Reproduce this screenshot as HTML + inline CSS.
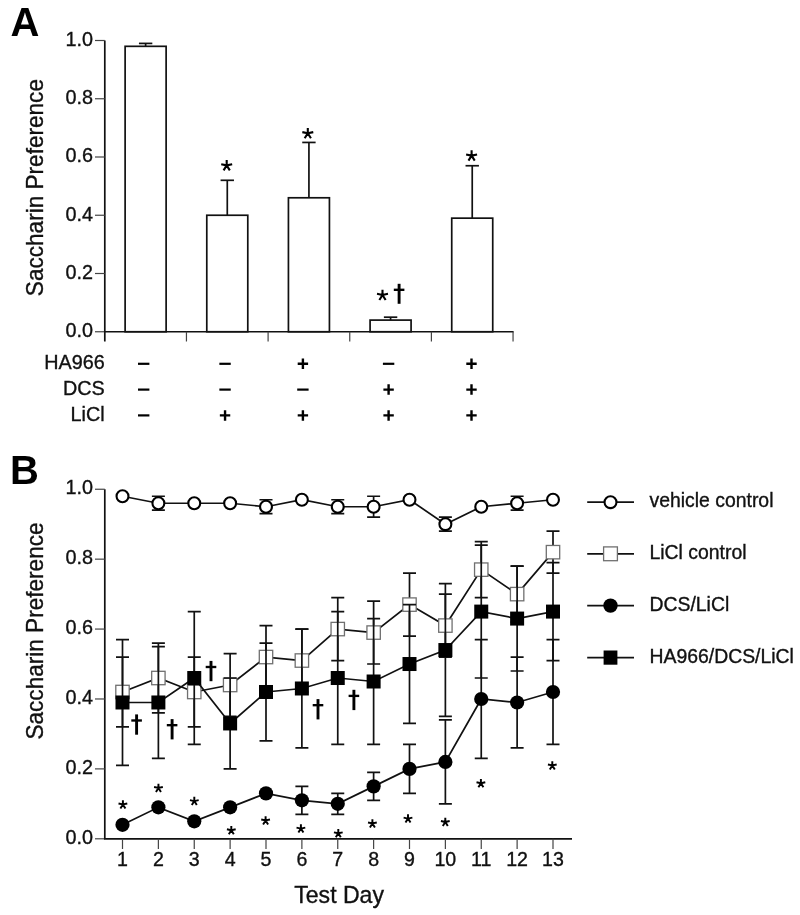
<!DOCTYPE html>
<html><head><meta charset="utf-8"><title>Figure</title>
<style>
html,body{margin:0;padding:0;background:#fff;}
body{width:800px;height:915px;overflow:hidden;}
svg{display:block;will-change:transform;}
text{font-family:"Liberation Sans",sans-serif;fill:#111;stroke:#111;stroke-width:0.35px;}
text[font-weight=bold]{stroke:none;fill:#000;}
</style></head>
<body>
<svg width="800" height="915" viewBox="0 0 800 915">
<text x="10.5" y="35.8" font-size="40" font-weight="bold">A</text>
<text x="10" y="484" font-size="40" font-weight="bold">B</text>
<line x1="104.8" y1="40.5" x2="104.8" y2="341.5" stroke="#111" stroke-width="1.7"/>
<line x1="95" y1="331.75" x2="104.8" y2="331.75" stroke="#444" stroke-width="1.2"/>
<text x="93" y="337.15" font-size="19.8" text-anchor="end">0.0</text>
<line x1="95" y1="273.5" x2="104.8" y2="273.5" stroke="#444" stroke-width="1.2"/>
<text x="93" y="278.9" font-size="19.8" text-anchor="end">0.2</text>
<line x1="95" y1="215.25" x2="104.8" y2="215.25" stroke="#444" stroke-width="1.2"/>
<text x="93" y="220.65" font-size="19.8" text-anchor="end">0.4</text>
<line x1="95" y1="157" x2="104.8" y2="157" stroke="#444" stroke-width="1.2"/>
<text x="93" y="162.4" font-size="19.8" text-anchor="end">0.6</text>
<line x1="95" y1="98.75" x2="104.8" y2="98.75" stroke="#444" stroke-width="1.2"/>
<text x="93" y="104.15" font-size="19.8" text-anchor="end">0.8</text>
<line x1="95" y1="40.5" x2="104.8" y2="40.5" stroke="#444" stroke-width="1.2"/>
<text x="93" y="45.9" font-size="19.8" text-anchor="end">1.0</text>
<line x1="103.95" y1="331.75" x2="513.6" y2="331.75" stroke="#111" stroke-width="1.7"/>
<line x1="186.45" y1="331.75" x2="186.45" y2="341.5" stroke="#444" stroke-width="1.2"/>
<line x1="268.1" y1="331.75" x2="268.1" y2="341.5" stroke="#444" stroke-width="1.2"/>
<line x1="349.75" y1="331.75" x2="349.75" y2="341.5" stroke="#444" stroke-width="1.2"/>
<line x1="431.4" y1="331.75" x2="431.4" y2="341.5" stroke="#444" stroke-width="1.2"/>
<line x1="513.05" y1="331.75" x2="513.05" y2="341.5" stroke="#444" stroke-width="1.2"/>
<text transform="translate(43.1,187.6) rotate(-90) scale(0.982,1)" font-size="23" text-anchor="middle">Saccharin Preference</text>
<line x1="145.62" y1="46.32" x2="145.62" y2="43.41" stroke="#111" stroke-width="1.7"/>
<line x1="138.93" y1="43.41" x2="152.32" y2="43.41" stroke="#111" stroke-width="1.7"/>
<rect x="125.12" y="46.32" width="41" height="285.43" fill="#fff" stroke="#111" stroke-width="1.7"/>
<line x1="227.28" y1="215.25" x2="227.28" y2="180.3" stroke="#111" stroke-width="1.7"/>
<line x1="220.58" y1="180.3" x2="233.97" y2="180.3" stroke="#111" stroke-width="1.7"/>
<rect x="206.78" y="215.25" width="41" height="116.5" fill="#fff" stroke="#111" stroke-width="1.7"/>
<line x1="308.93" y1="197.78" x2="308.93" y2="142.44" stroke="#111" stroke-width="1.7"/>
<line x1="302.23" y1="142.44" x2="315.62" y2="142.44" stroke="#111" stroke-width="1.7"/>
<rect x="288.43" y="197.78" width="41" height="133.97" fill="#fff" stroke="#111" stroke-width="1.7"/>
<line x1="390.58" y1="320.1" x2="390.58" y2="317.19" stroke="#111" stroke-width="1.7"/>
<line x1="383.88" y1="317.19" x2="397.28" y2="317.19" stroke="#111" stroke-width="1.7"/>
<rect x="370.08" y="320.1" width="41" height="11.65" fill="#fff" stroke="#111" stroke-width="1.7"/>
<line x1="472.23" y1="218.16" x2="472.23" y2="165.74" stroke="#111" stroke-width="1.7"/>
<line x1="465.53" y1="165.74" x2="478.93" y2="165.74" stroke="#111" stroke-width="1.7"/>
<rect x="451.73" y="218.16" width="41" height="113.59" fill="#fff" stroke="#111" stroke-width="1.7"/>
<path d="M226.7 165.4L226.7 160.1M226.7 165.4L232.18 164.24M226.7 165.4L221.22 164.24M226.7 165.4L229.83 170.4M226.7 165.4L223.57 170.4" stroke="#000" stroke-width="2.1" fill="none" stroke-linecap="butt"/>
<path d="M307.8 133.3L307.8 128M307.8 133.3L313.28 132.14M307.8 133.3L302.32 132.14M307.8 133.3L310.93 138.3M307.8 133.3L304.67 138.3" stroke="#000" stroke-width="2.1" fill="none" stroke-linecap="butt"/>
<path d="M382.5 295L382.5 289.7M382.5 295L387.98 293.84M382.5 295L377.02 293.84M382.5 295L385.63 300M382.5 295L379.37 300" stroke="#000" stroke-width="2.1" fill="none" stroke-linecap="butt"/>
<path d="M399.1 283.8V303.8" stroke="#000" stroke-width="2.9"/><path d="M393.8 289.8H404.4" stroke="#000" stroke-width="2.35"/>
<path d="M471.6 155.6L471.6 150.3M471.6 155.6L477.08 154.44M471.6 155.6L466.12 154.44M471.6 155.6L474.73 160.6M471.6 155.6L468.47 160.6" stroke="#000" stroke-width="2.1" fill="none" stroke-linecap="butt"/>
<text x="104.7" y="369.4" font-size="19.8" text-anchor="end">HA966</text>
<path d="M138 363.8H149.4" stroke="#000" stroke-width="2.2"/>
<path d="M219.35 363.8H230.75" stroke="#000" stroke-width="2.2"/>
<path d="M297.7 363.8H308.1M302.9 358.55V369.05" stroke="#000" stroke-width="2.4"/>
<path d="M382.9 363.8H394.3" stroke="#000" stroke-width="2.2"/>
<path d="M466.3 363.8H476.7M471.5 358.55V369.05" stroke="#000" stroke-width="2.4"/>
<text x="104.7" y="395.2" font-size="19.8" text-anchor="end">DCS</text>
<path d="M138 389.6H149.4" stroke="#000" stroke-width="2.2"/>
<path d="M219.35 389.6H230.75" stroke="#000" stroke-width="2.2"/>
<path d="M297.2 389.6H308.6" stroke="#000" stroke-width="2.2"/>
<path d="M383.4 389.6H393.8M388.6 384.35V394.85" stroke="#000" stroke-width="2.4"/>
<path d="M466.3 389.6H476.7M471.5 384.35V394.85" stroke="#000" stroke-width="2.4"/>
<text x="104.7" y="421" font-size="19.8" text-anchor="end">LiCl</text>
<path d="M138 415.4H149.4" stroke="#000" stroke-width="2.2"/>
<path d="M219.85 415.4H230.25M225.05 410.15V420.65" stroke="#000" stroke-width="2.4"/>
<path d="M297.7 415.4H308.1M302.9 410.15V420.65" stroke="#000" stroke-width="2.4"/>
<path d="M383.4 415.4H393.8M388.6 410.15V420.65" stroke="#000" stroke-width="2.4"/>
<path d="M466.3 415.4H476.7M471.5 410.15V420.65" stroke="#000" stroke-width="2.4"/>
<line x1="104.8" y1="489.25" x2="104.8" y2="838.8" stroke="#111" stroke-width="1.7"/>
<line x1="95" y1="838.8" x2="104.8" y2="838.8" stroke="#444" stroke-width="1.2"/>
<text x="93" y="844" font-size="19.8" text-anchor="end">0.0</text>
<line x1="95" y1="768.89" x2="104.8" y2="768.89" stroke="#444" stroke-width="1.2"/>
<text x="93" y="774.09" font-size="19.8" text-anchor="end">0.2</text>
<line x1="95" y1="698.98" x2="104.8" y2="698.98" stroke="#444" stroke-width="1.2"/>
<text x="93" y="704.18" font-size="19.8" text-anchor="end">0.4</text>
<line x1="95" y1="629.07" x2="104.8" y2="629.07" stroke="#444" stroke-width="1.2"/>
<text x="93" y="634.27" font-size="19.8" text-anchor="end">0.6</text>
<line x1="95" y1="559.16" x2="104.8" y2="559.16" stroke="#444" stroke-width="1.2"/>
<text x="93" y="564.36" font-size="19.8" text-anchor="end">0.8</text>
<line x1="95" y1="489.25" x2="104.8" y2="489.25" stroke="#444" stroke-width="1.2"/>
<text x="93" y="494.45" font-size="19.8" text-anchor="end">1.0</text>
<line x1="103.95" y1="838.8" x2="572" y2="838.8" stroke="#111" stroke-width="1.7"/>
<line x1="122.5" y1="838.8" x2="122.5" y2="849" stroke="#444" stroke-width="1.2"/>
<text x="122.5" y="866.3" font-size="19.6" text-anchor="middle">1</text>
<line x1="158.38" y1="838.8" x2="158.38" y2="849" stroke="#444" stroke-width="1.2"/>
<text x="158.38" y="866.3" font-size="19.6" text-anchor="middle">2</text>
<line x1="194.25" y1="838.8" x2="194.25" y2="849" stroke="#444" stroke-width="1.2"/>
<text x="194.25" y="866.3" font-size="19.6" text-anchor="middle">3</text>
<line x1="230.12" y1="838.8" x2="230.12" y2="849" stroke="#444" stroke-width="1.2"/>
<text x="230.12" y="866.3" font-size="19.6" text-anchor="middle">4</text>
<line x1="266" y1="838.8" x2="266" y2="849" stroke="#444" stroke-width="1.2"/>
<text x="266" y="866.3" font-size="19.6" text-anchor="middle">5</text>
<line x1="301.88" y1="838.8" x2="301.88" y2="849" stroke="#444" stroke-width="1.2"/>
<text x="301.88" y="866.3" font-size="19.6" text-anchor="middle">6</text>
<line x1="337.75" y1="838.8" x2="337.75" y2="849" stroke="#444" stroke-width="1.2"/>
<text x="337.75" y="866.3" font-size="19.6" text-anchor="middle">7</text>
<line x1="373.62" y1="838.8" x2="373.62" y2="849" stroke="#444" stroke-width="1.2"/>
<text x="373.62" y="866.3" font-size="19.6" text-anchor="middle">8</text>
<line x1="409.5" y1="838.8" x2="409.5" y2="849" stroke="#444" stroke-width="1.2"/>
<text x="409.5" y="866.3" font-size="19.6" text-anchor="middle">9</text>
<line x1="445.38" y1="838.8" x2="445.38" y2="849" stroke="#444" stroke-width="1.2"/>
<text x="445.38" y="866.3" font-size="19.6" text-anchor="middle">10</text>
<line x1="481.25" y1="838.8" x2="481.25" y2="849" stroke="#444" stroke-width="1.2"/>
<text x="481.25" y="866.3" font-size="19.6" text-anchor="middle">11</text>
<line x1="517.12" y1="838.8" x2="517.12" y2="849" stroke="#444" stroke-width="1.2"/>
<text x="517.12" y="866.3" font-size="19.6" text-anchor="middle">12</text>
<line x1="553" y1="838.8" x2="553" y2="849" stroke="#444" stroke-width="1.2"/>
<text x="553" y="866.3" font-size="19.6" text-anchor="middle">13</text>
<text x="339.1" y="903.3" font-size="23.05" text-anchor="middle">Test Day</text>
<text transform="translate(43.1,631) rotate(-90) scale(0.982,1)" font-size="23" text-anchor="middle">Saccharin Preference</text>
<path d="M122.5 657.03V726.94M116 657.03H129M116 726.94H129" stroke="#111" stroke-width="1.7" fill="none"/>
<path d="M158.38 643.05V712.96M151.88 643.05H164.88M151.88 712.96H164.88" stroke="#111" stroke-width="1.7" fill="none"/>
<path d="M194.25 657.03V726.94M187.75 657.03H200.75M187.75 726.94H200.75" stroke="#111" stroke-width="1.7" fill="none"/>
<path d="M230.12 653.54V716.46M223.62 653.54H236.62M223.62 716.46H236.62" stroke="#111" stroke-width="1.7" fill="none"/>
<path d="M266 625.57V688.49M259.5 625.57H272.5M259.5 688.49H272.5" stroke="#111" stroke-width="1.7" fill="none"/>
<path d="M301.88 629.07V691.99M295.38 629.07H308.38M295.38 691.99H308.38" stroke="#111" stroke-width="1.7" fill="none"/>
<path d="M337.75 597.61V660.53M331.25 597.61H344.25M331.25 660.53H344.25" stroke="#111" stroke-width="1.7" fill="none"/>
<path d="M373.62 601.11V664.02M367.12 601.11H380.12M367.12 664.02H380.12" stroke="#111" stroke-width="1.7" fill="none"/>
<path d="M409.5 573.14V636.06M403 573.14H416M403 636.06H416" stroke="#111" stroke-width="1.7" fill="none"/>
<path d="M445.38 594.12V657.03M438.88 594.12H451.88M438.88 657.03H451.88" stroke="#111" stroke-width="1.7" fill="none"/>
<path d="M481.25 541.68V597.61M474.75 541.68H487.75M474.75 597.61H487.75" stroke="#111" stroke-width="1.7" fill="none"/>
<path d="M517.12 566.15V622.08M510.62 566.15H523.62M510.62 622.08H523.62" stroke="#111" stroke-width="1.7" fill="none"/>
<path d="M553 531.2V573.14M546.5 531.2H559.5M546.5 573.14H559.5" stroke="#111" stroke-width="1.7" fill="none"/>
<polyline points="122.5,691.99 158.38,678.01 194.25,691.99 230.12,685 266,657.03 301.88,660.53 337.75,629.07 373.62,632.57 409.5,604.6 445.38,625.57 481.25,569.65 517.12,594.12 553,552.17" fill="none" stroke="#111" stroke-width="1.7"/>
<rect x="115.8" y="685.29" width="13.4" height="13.4" fill="#fff" stroke="#707070" stroke-width="1.3"/>
<rect x="151.68" y="671.31" width="13.4" height="13.4" fill="#fff" stroke="#707070" stroke-width="1.3"/>
<rect x="187.55" y="685.29" width="13.4" height="13.4" fill="#fff" stroke="#707070" stroke-width="1.3"/>
<rect x="223.43" y="678.3" width="13.4" height="13.4" fill="#fff" stroke="#707070" stroke-width="1.3"/>
<rect x="259.3" y="650.33" width="13.4" height="13.4" fill="#fff" stroke="#707070" stroke-width="1.3"/>
<rect x="295.18" y="653.83" width="13.4" height="13.4" fill="#fff" stroke="#707070" stroke-width="1.3"/>
<rect x="331.05" y="622.37" width="13.4" height="13.4" fill="#fff" stroke="#707070" stroke-width="1.3"/>
<rect x="366.93" y="625.87" width="13.4" height="13.4" fill="#fff" stroke="#707070" stroke-width="1.3"/>
<rect x="402.8" y="597.9" width="13.4" height="13.4" fill="#fff" stroke="#707070" stroke-width="1.3"/>
<rect x="438.68" y="618.87" width="13.4" height="13.4" fill="#fff" stroke="#707070" stroke-width="1.3"/>
<rect x="474.55" y="562.95" width="13.4" height="13.4" fill="#fff" stroke="#707070" stroke-width="1.3"/>
<rect x="510.43" y="587.41" width="13.4" height="13.4" fill="#fff" stroke="#707070" stroke-width="1.3"/>
<rect x="546.3" y="545.47" width="13.4" height="13.4" fill="#fff" stroke="#707070" stroke-width="1.3"/>
<path d="M122.5 639.56V765.39M116 639.56H129M116 765.39H129" stroke="#111" stroke-width="1.7" fill="none"/>
<path d="M158.38 646.55V758.4M151.88 646.55H164.88M151.88 758.4H164.88" stroke="#111" stroke-width="1.7" fill="none"/>
<path d="M194.25 611.59V744.42M187.75 611.59H200.75M187.75 744.42H200.75" stroke="#111" stroke-width="1.7" fill="none"/>
<path d="M230.12 678.01V768.89M223.62 678.01H236.62M223.62 768.89H236.62" stroke="#111" stroke-width="1.7" fill="none"/>
<path d="M266 643.05V740.93M259.5 643.05H272.5M259.5 740.93H272.5" stroke="#111" stroke-width="1.7" fill="none"/>
<path d="M301.88 629.07V747.92M295.38 629.07H308.38M295.38 747.92H308.38" stroke="#111" stroke-width="1.7" fill="none"/>
<path d="M337.75 611.59V744.42M331.25 611.59H344.25M331.25 744.42H344.25" stroke="#111" stroke-width="1.7" fill="none"/>
<path d="M373.62 618.58V744.42M367.12 618.58H380.12M367.12 744.42H380.12" stroke="#111" stroke-width="1.7" fill="none"/>
<path d="M409.5 604.6V723.45M403 604.6H416M403 723.45H416" stroke="#111" stroke-width="1.7" fill="none"/>
<path d="M445.38 583.63V716.46M438.88 583.63H451.88M438.88 716.46H451.88" stroke="#111" stroke-width="1.7" fill="none"/>
<path d="M481.25 545.18V678.01M474.75 545.18H487.75M474.75 678.01H487.75" stroke="#111" stroke-width="1.7" fill="none"/>
<path d="M517.12 566.15V671.02M510.62 566.15H523.62M510.62 671.02H523.62" stroke="#111" stroke-width="1.7" fill="none"/>
<path d="M553 562.66V660.53M546.5 562.66H559.5M546.5 660.53H559.5" stroke="#111" stroke-width="1.7" fill="none"/>
<polyline points="122.5,702.48 158.38,702.48 194.25,678.01 230.12,723.45 266,691.99 301.88,688.49 337.75,678.01 373.62,681.5 409.5,664.02 445.38,650.04 481.25,611.59 517.12,618.58 553,611.59" fill="none" stroke="#111" stroke-width="1.7"/>
<rect x="115.5" y="695.48" width="14" height="14" fill="#000"/>
<rect x="151.38" y="695.48" width="14" height="14" fill="#000"/>
<rect x="187.25" y="671.01" width="14" height="14" fill="#000"/>
<rect x="223.12" y="716.45" width="14" height="14" fill="#000"/>
<rect x="259" y="684.99" width="14" height="14" fill="#000"/>
<rect x="294.88" y="681.49" width="14" height="14" fill="#000"/>
<rect x="330.75" y="671.01" width="14" height="14" fill="#000"/>
<rect x="366.62" y="674.5" width="14" height="14" fill="#000"/>
<rect x="402.5" y="657.02" width="14" height="14" fill="#000"/>
<rect x="438.38" y="643.04" width="14" height="14" fill="#000"/>
<rect x="474.25" y="604.59" width="14" height="14" fill="#000"/>
<rect x="510.12" y="611.58" width="14" height="14" fill="#000"/>
<rect x="546" y="604.59" width="14" height="14" fill="#000"/>
<path d="M301.88 786.37V814.33M295.38 786.37H308.38M295.38 814.33H308.38" stroke="#111" stroke-width="1.7" fill="none"/>
<path d="M337.75 793.36V814.33M331.25 793.36H344.25M331.25 814.33H344.25" stroke="#111" stroke-width="1.7" fill="none"/>
<path d="M373.62 772.39V800.35M367.12 772.39H380.12M367.12 800.35H380.12" stroke="#111" stroke-width="1.7" fill="none"/>
<path d="M409.5 744.42V793.36M403 744.42H416M403 793.36H416" stroke="#111" stroke-width="1.7" fill="none"/>
<path d="M445.38 719.95V803.84M438.88 719.95H451.88M438.88 803.84H451.88" stroke="#111" stroke-width="1.7" fill="none"/>
<path d="M481.25 639.56V758.4M474.75 639.56H487.75M474.75 758.4H487.75" stroke="#111" stroke-width="1.7" fill="none"/>
<path d="M517.12 657.03V747.92M510.62 657.03H523.62M510.62 747.92H523.62" stroke="#111" stroke-width="1.7" fill="none"/>
<path d="M553 639.56V744.42M546.5 639.56H559.5M546.5 744.42H559.5" stroke="#111" stroke-width="1.7" fill="none"/>
<polyline points="122.5,824.82 158.38,807.34 194.25,821.32 230.12,807.34 266,793.36 301.88,800.35 337.75,803.84 373.62,786.37 409.5,768.89 445.38,761.9 481.25,698.98 517.12,702.48 553,691.99" fill="none" stroke="#111" stroke-width="1.7"/>
<circle cx="122.5" cy="824.82" r="7.1" fill="#000"/>
<circle cx="158.38" cy="807.34" r="7.1" fill="#000"/>
<circle cx="194.25" cy="821.32" r="7.1" fill="#000"/>
<circle cx="230.12" cy="807.34" r="7.1" fill="#000"/>
<circle cx="266" cy="793.36" r="7.1" fill="#000"/>
<circle cx="301.88" cy="800.35" r="7.1" fill="#000"/>
<circle cx="337.75" cy="803.84" r="7.1" fill="#000"/>
<circle cx="373.62" cy="786.37" r="7.1" fill="#000"/>
<circle cx="409.5" cy="768.89" r="7.1" fill="#000"/>
<circle cx="445.38" cy="761.9" r="7.1" fill="#000"/>
<circle cx="481.25" cy="698.98" r="7.1" fill="#000"/>
<circle cx="517.12" cy="702.48" r="7.1" fill="#000"/>
<circle cx="553" cy="691.99" r="7.1" fill="#000"/>
<path d="M158.38 496.24V510.22M151.88 496.24H164.88M151.88 510.22H164.88" stroke="#111" stroke-width="1.7" fill="none"/>
<path d="M266 499.74V513.72M259.5 499.74H272.5M259.5 513.72H272.5" stroke="#111" stroke-width="1.7" fill="none"/>
<path d="M337.75 499.74V513.72M331.25 499.74H344.25M331.25 513.72H344.25" stroke="#111" stroke-width="1.7" fill="none"/>
<path d="M373.62 496.24V517.21M367.12 496.24H380.12M367.12 517.21H380.12" stroke="#111" stroke-width="1.7" fill="none"/>
<path d="M445.38 517.21V531.2M438.88 517.21H451.88M438.88 531.2H451.88" stroke="#111" stroke-width="1.7" fill="none"/>
<path d="M517.12 496.24V510.22M510.62 496.24H523.62M510.62 510.22H523.62" stroke="#111" stroke-width="1.7" fill="none"/>
<polyline points="122.5,496.24 158.38,503.23 194.25,503.23 230.12,503.23 266,506.73 301.88,499.74 337.75,506.73 373.62,506.73 409.5,499.74 445.38,524.2 481.25,506.73 517.12,503.23 553,499.74" fill="none" stroke="#111" stroke-width="1.7"/>
<circle cx="122.5" cy="496.24" r="5.95" fill="#fff" stroke="#000" stroke-width="2.1"/>
<circle cx="158.38" cy="503.23" r="5.95" fill="#fff" stroke="#000" stroke-width="2.1"/>
<circle cx="194.25" cy="503.23" r="5.95" fill="#fff" stroke="#000" stroke-width="2.1"/>
<circle cx="230.12" cy="503.23" r="5.95" fill="#fff" stroke="#000" stroke-width="2.1"/>
<circle cx="266" cy="506.73" r="5.95" fill="#fff" stroke="#000" stroke-width="2.1"/>
<circle cx="301.88" cy="499.74" r="5.95" fill="#fff" stroke="#000" stroke-width="2.1"/>
<circle cx="337.75" cy="506.73" r="5.95" fill="#fff" stroke="#000" stroke-width="2.1"/>
<circle cx="373.62" cy="506.73" r="5.95" fill="#fff" stroke="#000" stroke-width="2.1"/>
<circle cx="409.5" cy="499.74" r="5.95" fill="#fff" stroke="#000" stroke-width="2.1"/>
<circle cx="445.38" cy="524.2" r="5.95" fill="#fff" stroke="#000" stroke-width="2.1"/>
<circle cx="481.25" cy="506.73" r="5.95" fill="#fff" stroke="#000" stroke-width="2.1"/>
<circle cx="517.12" cy="503.23" r="5.95" fill="#fff" stroke="#000" stroke-width="2.1"/>
<circle cx="553" cy="499.74" r="5.95" fill="#fff" stroke="#000" stroke-width="2.1"/>
<path d="M122.9 804.4L122.9 800.16M122.9 804.4L127.28 803.47M122.9 804.4L118.52 803.47M122.9 804.4L125.4 808.4M122.9 804.4L120.4 808.4" stroke="#000" stroke-width="1.95" fill="none" stroke-linecap="butt"/>
<path d="M158.45 787.9L158.45 783.66M158.45 787.9L162.83 786.97M158.45 787.9L154.07 786.97M158.45 787.9L160.95 791.9M158.45 787.9L155.95 791.9" stroke="#000" stroke-width="1.95" fill="none" stroke-linecap="butt"/>
<path d="M194.3 801.1L194.3 796.86M194.3 801.1L198.68 800.17M194.3 801.1L189.92 800.17M194.3 801.1L196.8 805.1M194.3 801.1L191.8 805.1" stroke="#000" stroke-width="1.95" fill="none" stroke-linecap="butt"/>
<path d="M231.3 830.2L231.3 825.96M231.3 830.2L235.68 829.27M231.3 830.2L226.92 829.27M231.3 830.2L233.8 834.2M231.3 830.2L228.8 834.2" stroke="#000" stroke-width="1.95" fill="none" stroke-linecap="butt"/>
<path d="M265.6 820.4L265.6 816.16M265.6 820.4L269.98 819.47M265.6 820.4L261.22 819.47M265.6 820.4L268.1 824.4M265.6 820.4L263.1 824.4" stroke="#000" stroke-width="1.95" fill="none" stroke-linecap="butt"/>
<path d="M300.9 828.6L300.9 824.36M300.9 828.6L305.28 827.67M300.9 828.6L296.52 827.67M300.9 828.6L303.4 832.6M300.9 828.6L298.4 832.6" stroke="#000" stroke-width="1.95" fill="none" stroke-linecap="butt"/>
<path d="M338.3 833.3L338.3 829.06M338.3 833.3L342.68 832.37M338.3 833.3L333.92 832.37M338.3 833.3L340.8 837.3M338.3 833.3L335.8 837.3" stroke="#000" stroke-width="1.95" fill="none" stroke-linecap="butt"/>
<path d="M372.4 823.4L372.4 819.16M372.4 823.4L376.78 822.47M372.4 823.4L368.02 822.47M372.4 823.4L374.9 827.4M372.4 823.4L369.9 827.4" stroke="#000" stroke-width="1.95" fill="none" stroke-linecap="butt"/>
<path d="M408 818.6L408 814.36M408 818.6L412.38 817.67M408 818.6L403.62 817.67M408 818.6L410.5 822.6M408 818.6L405.5 822.6" stroke="#000" stroke-width="1.95" fill="none" stroke-linecap="butt"/>
<path d="M445.3 822L445.3 817.76M445.3 822L449.68 821.07M445.3 822L440.92 821.07M445.3 822L447.8 826M445.3 822L442.8 826" stroke="#000" stroke-width="1.95" fill="none" stroke-linecap="butt"/>
<path d="M480.9 783.2L480.9 778.96M480.9 783.2L485.28 782.27M480.9 783.2L476.52 782.27M480.9 783.2L483.4 787.2M480.9 783.2L478.4 787.2" stroke="#000" stroke-width="1.95" fill="none" stroke-linecap="butt"/>
<path d="M552.3 765.4L552.3 761.16M552.3 765.4L556.68 764.47M552.3 765.4L547.92 764.47M552.3 765.4L554.8 769.4M552.3 765.4L549.8 769.4" stroke="#000" stroke-width="1.95" fill="none" stroke-linecap="butt"/>
<path d="M136.6 714.4V734.7" stroke="#000" stroke-width="2.9"/><path d="M131.3 720.49H141.9" stroke="#000" stroke-width="2.35"/>
<path d="M172.1 719.1V739.4" stroke="#000" stroke-width="2.9"/><path d="M166.8 725.19H177.4" stroke="#000" stroke-width="2.35"/>
<path d="M211 660.9V681.2" stroke="#000" stroke-width="2.9"/><path d="M205.7 666.99H216.3" stroke="#000" stroke-width="2.35"/>
<path d="M318 699.1V719.4" stroke="#000" stroke-width="2.9"/><path d="M312.7 705.19H323.3" stroke="#000" stroke-width="2.35"/>
<path d="M353.9 689.8V710.1" stroke="#000" stroke-width="2.9"/><path d="M348.6 695.89H359.2" stroke="#000" stroke-width="2.35"/>
<line x1="587.2" y1="502.2" x2="634" y2="502.2" stroke="#111" stroke-width="1.7"/>
<circle cx="610.5" cy="502.2" r="5.95" fill="#fff" stroke="#000" stroke-width="2.1"/>
<text x="649.5" y="507.1" font-size="19.4">vehicle control</text>
<line x1="587.2" y1="553.8" x2="634" y2="553.8" stroke="#111" stroke-width="1.7"/>
<rect x="603.6" y="546.9" width="13.8" height="13.8" fill="#fff" stroke="#707070" stroke-width="1.3"/>
<text x="649.5" y="558.7" font-size="19.4">LiCl control</text>
<line x1="587.2" y1="605.6" x2="634" y2="605.6" stroke="#111" stroke-width="1.7"/>
<circle cx="610.5" cy="605.6" r="7.2" fill="#000"/>
<text x="649.5" y="610.5" font-size="19.4">DCS/LiCl</text>
<line x1="587.2" y1="657.6" x2="634" y2="657.6" stroke="#111" stroke-width="1.7"/>
<rect x="603.6" y="650.5" width="13.8" height="14.2" fill="#000"/>
<text x="649.5" y="662.5" font-size="19.4">HA966/DCS/LiCl</text>
</svg>
</body></html>
